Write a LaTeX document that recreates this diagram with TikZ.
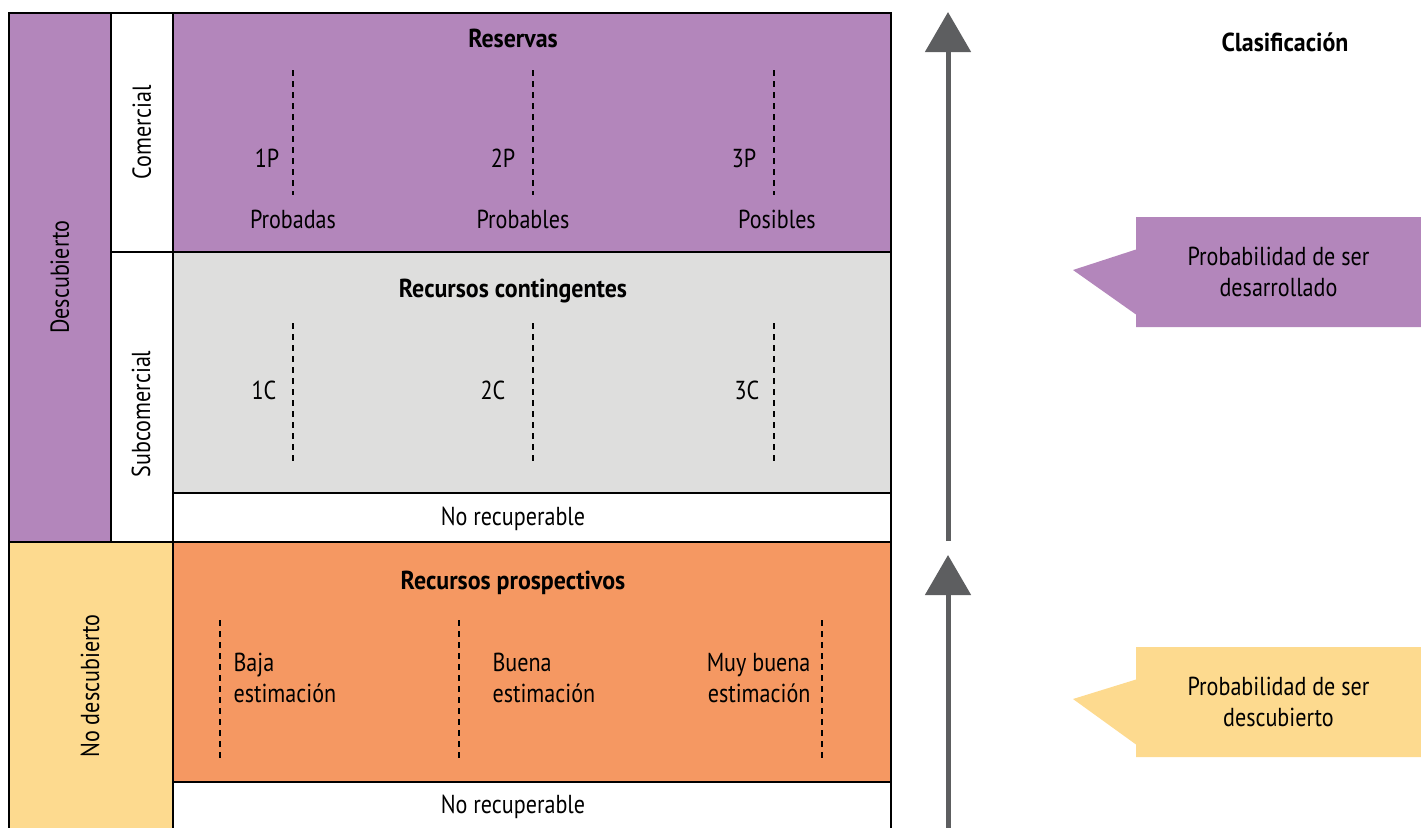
\documentclass[tikz,border=0pt]{standalone}
\usepackage{tikz}
\usepackage{xcolor}
\usepackage{fontspec}
\setmainfont[FakeStretch=0.85, BoldFeatures={FakeStretch=0.92}]{PT Sans}
\usetikzlibrary{arrows.meta,shapes.callouts,positioning}

\definecolor{lila}{HTML}{B386BB}
\definecolor{gris}{HTML}{DEDEDD}
\definecolor{naranja}{HTML}{F59862}
\definecolor{amarillo}{HTML}{FDDA8F}
\definecolor{flecha}{HTML}{5D5E60}

\begin{document}
\begin{tikzpicture}[x=1pt, y=-1pt,
    caja/.style = {draw, line width=1.5pt, anchor=north west, inner sep=0pt},
    corte/.style = {line width=2pt, dash pattern=on 6pt off 5pt},
    texto/.style = {font=\fontsize{26}{31}\selectfont},
    titulo/.style = {font=\fontsize{26}{31}\selectfont\bfseries},
    vertical/.style = {texto, rotate=90},
    nota/.style = {rectangle callout, texto, align=center, minimum width=285pt, minimum height=110pt, callout pointer width=65pt},
    eje/.style = {line width=5pt, flecha, -{Triangle[width=45pt, length=40pt]}}]
    \clip (0,0) rectangle (1421,827);

    % cajas
    \node [caja, fill=lila, minimum width=102pt, minimum height=529pt] (desc) at (8,12) {};
    \node [caja, fill=white, minimum width=62pt, minimum height=239pt] (com) at (110,12) {};
    \node [caja, fill=white, minimum width=62pt, minimum height=290pt] (subcom) at (110,251) {};
    \node [caja, fill=lila, minimum width=718pt, minimum height=239pt] (res) at (172,12) {};
    \node [caja, fill=gris, minimum width=718pt, minimum height=241pt] (cont) at (172,251) {};
    \node [caja, fill=white, minimum width=718pt, minimum height=49pt] (norecA) at (172,492) {};
    \node [caja, fill=amarillo, minimum width=164pt, minimum height=300pt] (nodesc) at (8,541) {};
    \node [caja, fill=naranja, minimum width=718pt, minimum height=240pt] (pros) at (172,541) {};
    \node [caja, fill=white, minimum width=718pt, minimum height=60pt] (norecB) at (172,781) {};

    % rotulos verticales
    \node [vertical] (tdesc) at (desc.center) {Descubierto};
    \node [vertical] (tcom) at (com.center) {Comercial};
    \node [vertical] (tsub) at (141,414) {Subcomercial};
    \node [vertical] (tnod) at (90,686) {No descubierto};

    % reservas
    \node [titulo] (tres) at (513,38) {Reservas};
    \foreach \x in {293,533,774}
        \draw [corte] (\x,70) -- (\x,195);
    \node [texto] (p1) at (267,158) {1P};
    \node [texto] (p2) at (503,158) {2P};
    \node [texto] (p3) at (744,158) {3P};
    \node [texto] (prob1) at (293,219) {Probadas};
    \node [texto] (prob2) at (523,219) {Probables};
    \node [texto] (prob3) at (777,219) {Posibles};

    % recursos contingentes
    \node [titulo] (tcont) at (513,291) {Recursos contingentes};
    \foreach \x in {293,533,774}
        \draw [corte] (\x,323) -- (\x,465);
    \node [texto] (c1) at (264,390) {1C};
    \node [texto] (c2) at (493,390) {2C};
    \node [texto] (c3) at (747,390) {3C};
    \node [texto] (tnrA) at (513,519) {No recuperable};

    % recursos prospectivos
    \node [titulo] (tpros) at (513,583) {Recursos prospectivos};
    \foreach \x in {220,459,822}
        \draw [corte] (\x,620) -- (\x,760);
    \node [texto, align=left, anchor=west] (baja) at (230,678) {Baja\\estimación};
    \node [texto, align=left, anchor=west] (buena) at (489,678) {Buena\\estimación};
    \node [texto, align=right, anchor=east] (muy) at (814,678) {Muy buena\\estimación};
    \node [texto] (tnrB) at (513,807) {No recuperable};

    % ejes
    \coordinate (ejeA0) at (948,541);
    \coordinate (ejeA1) at (948,12);
    \coordinate (ejeB0) at (948,830);
    \coordinate (ejeB1) at (948,555);
    \path
        (ejeA0) edge [eje] (ejeA1)
        (ejeB0) edge [eje] (ejeB1);

    % clasificacion
    \node [titulo] (clas) at (1285,42) {Clasificación};
    \node [nota, fill=lila, callout absolute pointer={(1073,270)}] (desarr) at (1278.5,272) {Probabilidad de ser\\desarrollado};
    \node [nota, fill=amarillo, callout absolute pointer={(1073,699)}] (descu) at (1278.5,702) {Probabilidad de ser\\descubierto};
\end{tikzpicture}
\end{document}
